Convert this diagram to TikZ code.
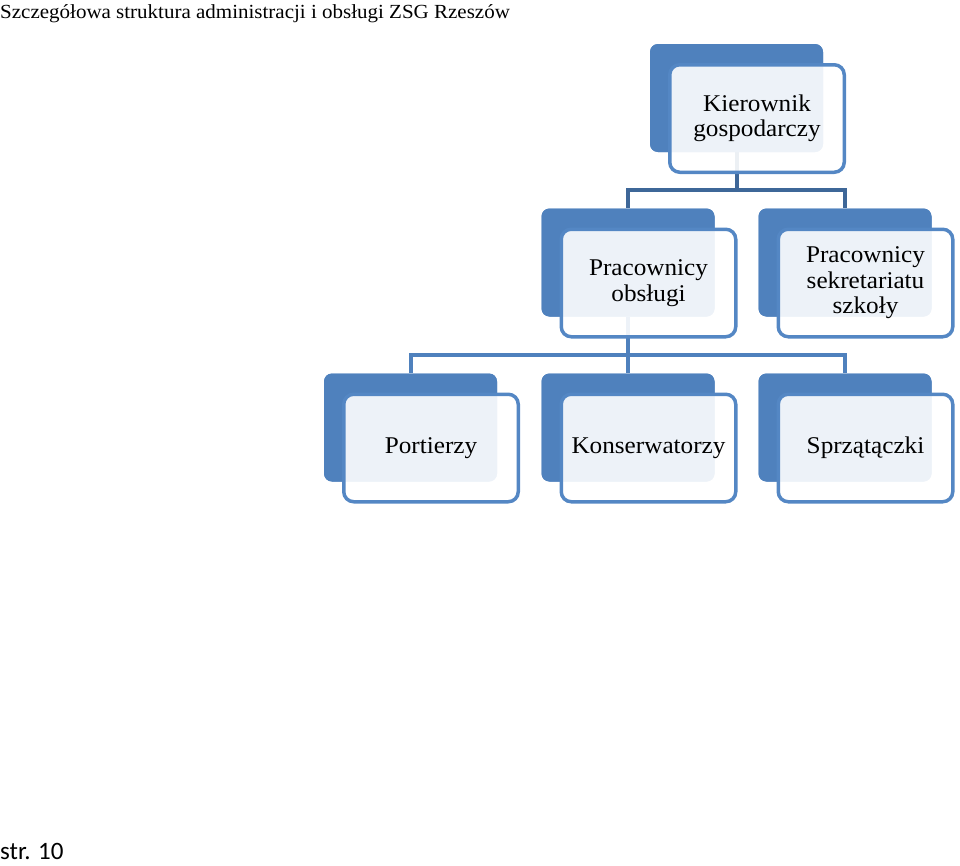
\documentclass[tikz,border=0pt]{standalone}
\usepackage{fontspec}
\setmainfont{Liberation Serif}[FakeStretch=1.05]
\newfontfamily\carl{Carlito}
\definecolor{bblue}{RGB}{79,129,189}
\definecolor{fblue}{RGB}{84,135,196}
\definecolor{dblue}{RGB}{62,103,152}
\tikzset{
  backbox/.style={fill=bblue, rounded corners=8pt, minimum width=173pt, minimum height=108pt, inner sep=0pt},
  frontbox/.style={draw=fblue, line width=3.5pt, fill=white, fill opacity=0.9, text opacity=1, rounded corners=10pt, minimum width=174.5pt, minimum height=107.5pt, inner sep=0pt, align=center, font=\fontsize{24}{25.5}\selectfont},
  conn1/.style={draw=dblue, line width=4pt},
  conn2/.style={draw=bblue, line width=4pt},
}
\newcommand{\orgunit}[4]{%
  \node[backbox] (#1b) at (#2,#3) {};
}
\newcommand{\orgfront}[4]{%
  \node[frontbox] (#1f) at (#2+20.5,#3+20.5) {#4};
}
\begin{document}
\begin{tikzpicture}[x=1pt,y=-1pt]
\useasboundingbox (0,0) rectangle (960,865);
\node[anchor=base west, inner sep=0pt, font=\fontsize{20}{22}\selectfont] (title) at (0,18) {Szczegółowa struktura administracji i obsługi ZSG Rzeszów};
\node[anchor=base west, inner sep=0pt, font=\carl\fontsize{25}{28}\selectfont] (page) at (0,859) {str. 10};
% back boxes
\orgunit{k}{736.5}{98}{}
\orgunit{o}{628}{262.5}{}
\orgunit{s}{845}{262.5}{}
\orgunit{p}{410.5}{427.5}{}
\orgunit{c}{628}{427.5}{}
\orgunit{z}{845}{427.5}{}
% connectors
\coordinate (h1) at (0,190);
\coordinate (h2) at (0,355);
\draw[conn1] (kb.south) -- (kb.south |- h1) -| (ob.north);
\draw[conn1] (kb.south |- h1) -| (sb.north);
\draw[conn2] (ob.south) -- (ob.south |- h2) -| (pb.north);
\draw[conn2] (ob.south |- h2) -- (cb.north);
\draw[conn2] (ob.south |- h2) -| (zb.north);
% redraw back boxes over connectors
\node[backbox] at (kb) {};
\node[backbox] at (ob) {};
\node[backbox] at (sb) {};
\node[backbox] at (pb) {};
\node[backbox] at (cb) {};
\node[backbox] at (zb) {};
% front boxes
\orgfront{k}{736.5}{98}{Kierownik\\gospodarczy}
\orgfront{o}{628}{262.5}{Pracownicy\\obsługi}
\orgfront{s}{845}{262.5}{Pracownicy\\sekretariatu\\szkoły}
\orgfront{p}{410.5}{427.5}{Portierzy}
\orgfront{c}{628}{427.5}{Konserwatorzy}
\orgfront{z}{845}{427.5}{Sprzątączki}
\end{tikzpicture}
\end{document}
